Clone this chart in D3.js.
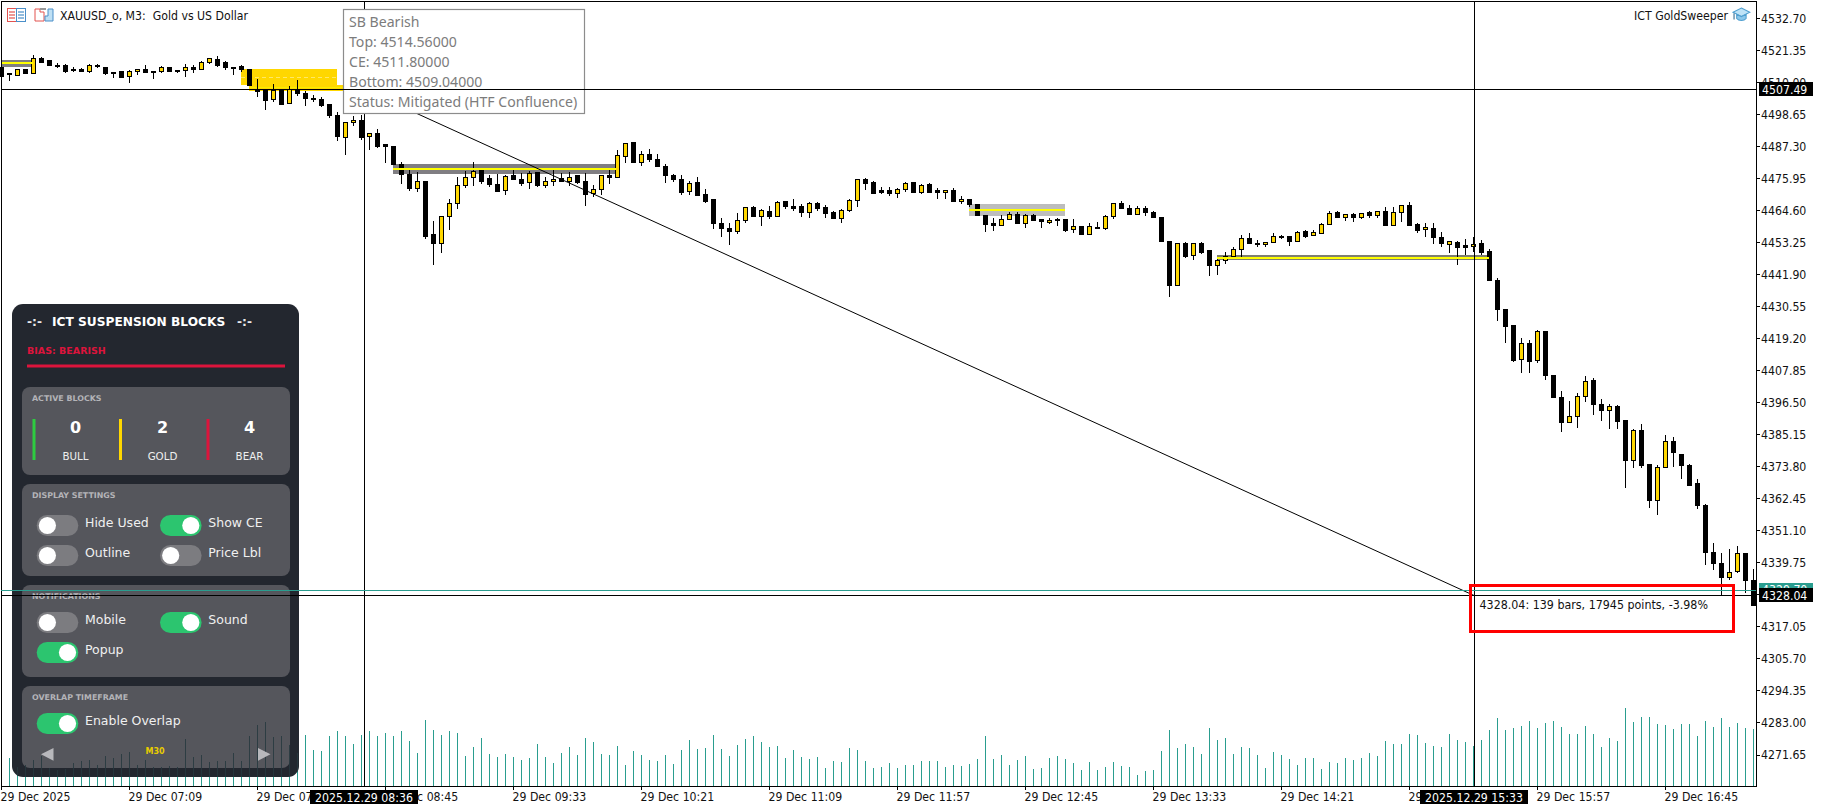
<!DOCTYPE html>
<html><head><meta charset="utf-8">
<style>
html,body{margin:0;padding:0;background:#fff;overflow:hidden}
svg{display:block}
.mt{font-family:"DejaVu Sans Condensed","DejaVu Sans",sans-serif;font-stretch:condensed;font-size:12.2px;fill:#111;white-space:pre}
.axis text{font-family:"DejaVu Sans Condensed","DejaVu Sans",sans-serif;font-stretch:condensed;font-size:12.2px;fill:#111}
.axis line{stroke:#000;shape-rendering:crispEdges}
.pn{font-family:"DejaVu Sans",sans-serif}
</style>
</head><body>
<script src="https://cdn.jsdelivr.net/npm/d3@7/dist/d3.min.js"></script>
<script>
const opens=[4515.3,4513.1,4512.5,4514.4,4513.2,4518.6,4517.6,4516.1,4516.1,4514.6,
4514.6,4513.8,4516.1,4515.3,4513.4,4513.7,4512.1,4514.0,4514.7,4513.8,
4513.8,4515.1,4514.3,4514.1,4515.4,4514.5,4517.1,4518.1,4516.9,4515.4,
4515.6,4514.7,4507.5,4507.0,4503.9,4507.0,4502.6,4507.4,4506.1,4504.2,
4504.0,4502.0,4498.1,4490.5,4495.8,4496.6,4490.7,4491.9,4487.8,4487.4,
4481.0,4477.4,4472.3,4475.0,4455.9,4452.9,4462.4,4467.1,4473.5,4476.3,
4478.6,4475.9,4473.9,4471.7,4476.8,4475.7,4474.5,4478.0,4473.5,4474.9,
4475.8,4474.8,4476.8,4475.0,4470.4,4471.9,4477.0,4476.3,4483.6,4488.5,
4481.5,4484.5,4482.7,4480.3,4477.0,4475.6,4471.2,4474.3,4470.3,4468.3,
4460.0,4458.3,4457.0,4461.1,4465.7,4462.4,4464.2,4462.4,4467.6,4466.0,
4465.8,4463.8,4467.0,4465.7,4463.7,4461.7,4464.5,4468.2,4475.7,4474.3,
4471.5,4471.5,4470.6,4472.1,4474.5,4470.9,4473.6,4471.5,4471.1,4471.8,
4467.7,4468.5,4466.7,4462.6,4459.8,4459.3,4461.4,4463.3,4460.0,4462.6,
4461.2,4460.2,4461.5,4461.2,4457.7,4459.0,4456.0,4458.5,4458.1,4462.4,
4466.9,4465.3,4463.3,4465.4,4463.9,4462.2,4453.7,4437.9,4453.0,4448.5,
4453.0,4450.2,4445.0,4446.9,4448.4,4450.7,4454.7,4452.9,4452.4,4453.1,
4455.5,4455.2,4453.5,4457.2,4455.7,4456.3,4459.6,4463.7,4462.1,4463.3,
4462.0,4463.7,4462.7,4464.2,4459.2,4463.8,4466.4,4459.7,4457.7,4458.2,
4454.8,4452.5,4453.2,4452.0,4451.7,4452.7,4450.1,4439.9,4429.5,4423.8,
4411.8,4417.4,4411.2,4421.5,4406.2,4398.4,4389.4,4391.4,4398.5,4404.1,
4395.9,4393.7,4395.1,4390.1,4375.9,4386.7,4374.6,4361.8,4373.5,4382.8,
4378.2,4374.3,4367.8,4360.0,4343.3,4339.4,4334.5,4336.4,4343.0,4333.3];
const highs=[4516.0,4513.4,4514.6,4514.6,4519.7,4519.1,4517.7,4516.7,4516.4,4515.6,
4515.1,4516.5,4516.6,4515.6,4513.5,4514.1,4514.4,4514.8,4516.1,4513.9,
4515.7,4515.3,4514.4,4516.4,4516.0,4517.7,4518.6,4519.3,4517.6,4515.6,
4516.3,4514.8,4511.3,4507.6,4509.4,4507.5,4508.7,4510.8,4507.0,4505.4,
4504.9,4502.3,4499.5,4495.8,4498.1,4498.4,4491.9,4493.3,4488.0,4487.4,
4481.6,4478.9,4478.3,4475.0,4460.8,4462.5,4468.6,4476.5,4478.7,4481.6,
4478.9,4477.1,4477.5,4477.1,4478.9,4477.7,4478.7,4478.3,4476.3,4478.9,
4478.0,4478.3,4476.8,4477.7,4473.6,4477.1,4478.9,4486.0,4488.6,4488.7,
4485.6,4486.4,4484.6,4481.0,4477.4,4477.1,4475.1,4476.3,4472.0,4468.7,
4461.8,4460.0,4463.5,4465.9,4466.1,4465.0,4466.1,4467.9,4467.9,4468.7,
4466.7,4467.4,4467.6,4466.4,4464.5,4465.0,4468.5,4475.7,4476.1,4474.9,
4472.8,4472.8,4472.4,4474.5,4474.7,4473.8,4474.2,4472.4,4471.8,4472.4,
4469.6,4468.7,4467.0,4462.8,4461.8,4463.1,4464.0,4464.0,4463.2,4463.3,
4461.4,4461.9,4461.9,4461.4,4461.4,4459.2,4460.0,4460.4,4463.0,4467.2,
4467.8,4466.4,4466.1,4466.1,4464.5,4462.4,4453.8,4453.1,4453.3,4453.1,
4453.4,4450.2,4447.6,4449.7,4451.5,4455.7,4456.4,4454.1,4453.4,4456.4,
4455.9,4455.5,4457.3,4457.6,4457.6,4460.0,4464.2,4464.4,4463.3,4463.8,
4463.7,4464.4,4464.5,4465.7,4465.9,4466.6,4467.4,4460.0,4460.0,4460.0,
4456.8,4453.8,4453.8,4454.3,4455.3,4454.1,4450.8,4440.5,4429.6,4423.9,
4419.2,4418.6,4422.0,4421.6,4406.2,4400.5,4397.0,4399.7,4405.7,4405.0,
4397.6,4395.8,4395.6,4390.2,4386.9,4388.8,4374.6,4374.3,4384.9,4384.3,
4378.3,4374.6,4369.5,4360.5,4346.5,4343.0,4344.4,4345.6,4343.0,4337.3];
const lows=[4511.8,4510.6,4512.4,4513.1,4513.1,4516.7,4515.9,4515.1,4513.4,4513.5,
4513.9,4513.2,4515.2,4512.7,4511.7,4511.4,4509.9,4512.5,4513.3,4511.1,
4513.4,4513.7,4513.2,4512.0,4513.2,4514.3,4516.5,4515.3,4514.5,4512.7,
4513.7,4508.7,4504.9,4500.2,4502.9,4501.8,4502.4,4505.1,4501.6,4503.0,
4501.1,4497.4,4489.3,4484.2,4494.6,4489.5,4486.0,4486.7,4481.5,4480.7,
4473.9,4471.6,4471.2,4454.6,4445.2,4449.6,4457.6,4465.2,4472.5,4473.2,
4473.9,4473.0,4471.1,4470.0,4475.2,4473.4,4472.2,4473.0,4472.5,4473.4,
4474.7,4473.2,4473.9,4466.3,4469.5,4470.0,4473.9,4476.1,4481.5,4481.5,
4480.4,4481.9,4480.0,4474.4,4474.5,4470.0,4470.2,4469.7,4467.3,4458.1,
4455.3,4452.3,4456.2,4460.2,4462.2,4459.0,4461.4,4462.2,4465.0,4464.4,
4462.4,4461.9,4464.5,4461.9,4461.5,4460.2,4464.1,4465.9,4471.8,4470.4,
4470.4,4469.8,4469.0,4471.0,4470.8,4470.5,4470.6,4468.7,4468.7,4467.6,
4467.0,4465.9,4462.6,4457.0,4457.4,4459.0,4461.2,4459.9,4458.3,4460.7,
4458.3,4459.8,4459.2,4456.9,4456.7,4455.9,4455.9,4458.1,4457.8,4461.7,
4465.0,4463.1,4463.0,4462.7,4461.8,4453.4,4434.0,4437.8,4447.8,4447.0,
4449.1,4441.3,4441.7,4445.6,4448.2,4448.2,4452.5,4451.6,4451.7,4452.9,
4454.6,4452.0,4453.3,4454.9,4455.5,4456.1,4459.5,4462.0,4460.8,4460.6,
4461.6,4461.9,4462.0,4459.0,4459.0,4460.6,4459.2,4456.7,4455.3,4452.8,
4451.7,4449.6,4445.3,4448.8,4449.8,4448.8,4439.5,4425.5,4417.7,4410.9,
4407.0,4407.0,4410.6,4404.6,4398.0,4386.1,4389.3,4387.4,4396.8,4392.1,
4390.0,4386.9,4387.2,4366.3,4373.3,4373.1,4358.9,4356.7,4373.1,4373.7,
4369.5,4367.0,4358.8,4338.8,4337.1,4328.2,4333.6,4336.1,4328.8,4324.4];
const closes=[4512.2,4512.8,4514.4,4513.2,4518.5,4517.0,4516.0,4515.9,4514.0,4514.3,
4514.0,4516.0,4515.8,4513.0,4513.2,4511.7,4513.9,4514.6,4513.4,4513.7,
4515.1,4513.9,4514.0,4515.3,4514.6,4517.1,4518.3,4516.0,4515.1,4515.2,
4514.4,4508.9,4506.6,4503.5,4507.2,4502.3,4507.5,4506.1,4504.2,4504.0,
4501.7,4498.2,4490.7,4495.8,4496.5,4490.5,4491.9,4487.1,4487.3,4480.9,
4477.2,4472.2,4474.9,4455.5,4452.8,4462.5,4467.1,4473.5,4476.3,4478.4,
4475.0,4473.7,4471.2,4476.7,4475.5,4474.0,4477.7,4473.4,4474.9,4475.6,
4474.8,4476.3,4474.4,4470.2,4472.0,4477.0,4476.2,4484.1,4488.4,4481.7,
4484.5,4482.5,4480.1,4476.9,4475.4,4471.1,4474.2,4470.0,4467.9,4459.9,
4458.1,4457.0,4460.9,4465.7,4462.4,4464.5,4462.4,4467.4,4465.8,4465.3,
4463.8,4466.9,4465.4,4463.4,4461.7,4464.7,4468.2,4475.7,4474.1,4470.5,
4471.0,4470.5,4472.1,4474.2,4470.9,4473.5,4470.9,4471.1,4471.7,4467.7,
4468.5,4466.7,4462.7,4459.5,4459.3,4461.4,4463.2,4460.1,4462.8,4460.9,
4460.5,4461.1,4461.4,4457.6,4458.9,4456.0,4458.9,4458.2,4462.5,4466.9,
4465.2,4463.3,4465.4,4463.7,4461.9,4453.5,4437.8,4452.9,4448.4,4452.9,
4449.6,4444.9,4446.9,4448.4,4450.8,4454.6,4452.7,4452.4,4453.1,4455.3,
4455.0,4453.5,4456.8,4455.5,4456.6,4459.7,4463.5,4462.2,4463.2,4461.9,
4463.5,4462.6,4464.2,4459.2,4463.9,4466.4,4459.4,4457.6,4458.6,4454.9,
4452.9,4453.7,4451.4,4451.4,4452.5,4449.5,4439.7,4429.3,4423.3,4411.5,
4417.4,4410.9,4421.7,4406.0,4398.2,4389.3,4391.4,4398.6,4404.0,4395.7,
4393.6,4395.1,4389.7,4375.8,4386.7,4374.3,4361.7,4373.5,4382.8,4378.7,
4374.2,4367.2,4359.9,4343.2,4339.3,4334.5,4336.2,4343.0,4333.4,4324.6];
const volumes=[260,277,193,210,260,300,177,160,170,233,253,260,210,303,283,320,343,210,260,193,190,200,195,
467,293,310,243,253,253,327,253,500,610,643,487,500,410,327,510,360,350,500,553,500,420,510,553,500,530,500,553,450,330,660,560,510,553,530,300,393,480,320,290,
320,287,260,277,420,287,233,333,393,313,483,440,320,313,400,210,353,313,260,250,313,220,360,460,370,380,510,370,303,410,470,500,440,393,400,280,360,290,273,290,180,250,240,380,360,250,180,190,233,180,210,210,250,250,250,190,210,200,220,270,500,270,313,210,260,300,170,180,280,300,270,230,160,240,160,190,240,200,190,110,150,160,350,560,380,420,390,
320,580,460,480,320,390,380,310,180,340,310,270,210,280,280,170,240,230,280,260,280,330,300,450,420,420,520,510,430,400,390,520,460,440,400,460,560,680,560,580,600,650,580,630,650,590,520,520,600,520,390,480,450,780,640,690,690,620,610,570,620,620,500,650,590,680,590,630,580,570];
const priceTicks=[4532.70,4521.35,4510.00,4498.65,4487.30,4475.95,4464.60,4453.25,4441.90,4430.55,4419.20,4407.85,4396.50,4385.15,4373.80,4362.45,4351.10,4339.75,4328.40,4317.05,4305.70,4294.35,4283.00,4271.65];
const timeTickBars=[0,16,32,48,64,80,96,112,128,144,160,176,192,208];
const timeLabels=["29 Dec 2025","29 Dec 07:09","29 Dec 07:57","29 Dec 08:45","29 Dec 09:33","29 Dec 10:21","29 Dec 11:09","29 Dec 11:57","29 Dec 12:45","29 Dec 13:33","29 Dec 14:21","29 Dec 15:09","29 Dec 15:57","29 Dec 16:45"];
const greyZones=[
 {from:0,to:4,top:4517.9,bottom:4515.5,ce:4516.7,fill:"#808080"},
 {from:49,to:76.9,top:4481.0,bottom:4477.5,ce:4479.3,fill:"#807e82"},
 {from:121,to:133,top:4466.9,bottom:4462.6,ce:4464.7,fill:"#bdbdbd"},
 {from:152,to:186,top:4448.8,bottom:4447.1,ce:4447.8,fill:"#7f7f70"}];
const goldZones=[
 {from:30,to:42,top:4514.56,bottom:4509.04,ce:4511.80},
 {from:31,to:44,top:4509.04,bottom:4506.8,ce:4508.0}];
const tooltipLines=["SB Bearish","Top: 4514.56000","CE: 4511.80000","Bottom: 4509.04000","Status: Mitigated (HTF Confluence)"];
const rulerStart={bar:45.375,price:4507.49,time:"2025.12.29 08:36"};
const rulerEnd={bar:184.125,price:4328.04,time:"2025.12.29 15:33"};
const bidPrice=4329.7;
const rulerText="4328.04: 139 bars, 17945 points, -3.98%";
const headerText="XAUUSD_o, M3:  Gold vs US Dollar";
const counts=[{n:"0",label:"BULL",c:"#2ecc40"},{n:"2",label:"GOLD",c:"#ffd700"},{n:"4",label:"BEAR",c:"#dc143c"}];

const W=1826,H=810,L=1,R=1756,T=1,B=786;
const svg=d3.select("body").append("svg").attr("width",W).attr("height",H);
const x=d3.scaleLinear().domain([0,219]).range([1,1753]);
const y=d3.scaleLinear().domain([4532.70,4271.65]).range([18.3,754.5]);
const v=d3.scaleLinear().domain([0,800]).range([B,B-80]);
const px=i=>x(i)+.5, py=p=>Math.floor(y(p))+.5;
const bars=opens.map((o,i)=>({i,o,h:highs[i],l:lows[i],c:closes[i],vol:volumes[i]}));
const TEAL="#2a9d8f";

// volume
const vg=svg.append("g").attr("shape-rendering","crispEdges");
vg.selectAll("line").data(bars).join("line")
 .attr("x1",d=>px(d.i)).attr("x2",d=>px(d.i)).attr("y1",B).attr("y2",d=>v(d.vol)).attr("stroke",TEAL);

// zones
const zr=svg.append("g").attr("shape-rendering","crispEdges");
zr.selectAll(".g").data(greyZones).join("rect").attr("class","g")
 .attr("x",d=>x(d.from)).attr("width",d=>x(d.to)-x(d.from))
 .attr("y",d=>y(d.top)).attr("height",d=>y(d.bottom)-y(d.top)).attr("fill",d=>d.fill);
zr.selectAll(".au").data(goldZones).join("rect").attr("class","au")
 .attr("x",d=>x(d.from)).attr("width",d=>x(d.to)-x(d.from))
 .attr("y",d=>y(d.top)).attr("height",d=>y(d.bottom)-y(d.top)).attr("fill","#ffd700");
zr.append("line").datum(goldZones[0]).attr("x1",d=>x(d.from)).attr("x2",d=>x(d.to))
 .attr("y1",d=>py(d.ce)).attr("y2",d=>py(d.ce)).attr("stroke","#ffe866").attr("stroke-dasharray","4 3");
zr.append("line").datum(goldZones[1]).attr("x1",d=>x(d.from)).attr("x2",d=>x(d.to))
 .attr("y1",d=>py(d.ce)).attr("y2",d=>py(d.ce)).attr("stroke","#f6ee00");

// candles
const cg=svg.append("g").attr("shape-rendering","crispEdges");
cg.selectAll("line").data(bars).join("line")
 .attr("x1",d=>px(d.i)).attr("x2",d=>px(d.i))
 .attr("y1",d=>y(d.h)).attr("y2",d=>y(d.l)).attr("stroke","#000");
cg.selectAll("rect").data(bars).join("rect")
 .attr("x",d=>x(d.i)-1.5).attr("width",4)
 .attr("y",d=>py(Math.max(d.o,d.c)))
 .attr("height",d=>Math.max(1,py(Math.min(d.o,d.c))-py(Math.max(d.o,d.c))))
 .attr("fill",d=>d.c>d.o?"#ffd700":"#000").attr("stroke","#000");

// CE lines above the candles
svg.append("g").attr("shape-rendering","crispEdges").selectAll("rect").data(greyZones).join("rect")
 .attr("x",d=>x(d.from)).attr("width",d=>x(d.to)-x(d.from))
 .attr("y",d=>y(d.ce)-1).attr("height",2).attr("fill","#ffff00");

// frame
svg.append("rect").attr("x",L+.5).attr("y",T+.5).attr("width",R-L-.5).attr("height",B-T-.5)
 .attr("fill","none").attr("stroke","#000").attr("shape-rendering","crispEdges");

// axes
const yAxis=d3.axisRight(y).tickValues(priceTicks).tickFormat(d3.format(".2f")).tickSize(4).tickPadding(1);
svg.append("g").attr("class","axis").attr("transform",`translate(${R},0)`).call(yAxis).call(g=>g.select(".domain").remove());
const xAxis=d3.axisBottom(x).tickValues(timeTickBars).tickFormat((d,i)=>timeLabels[i]).tickSize(4).tickPadding(1);
svg.append("g").attr("class","axis").attr("transform",`translate(0,${B})`).call(xAxis)
 .call(g=>g.select(".domain").remove())
 .call(g=>g.selectAll("text").attr("text-anchor","start").attr("x",-1).attr("y",5).attr("dy","0.85em"));

// ruler line
svg.append("line").attr("x1",x(rulerStart.bar)).attr("y1",y(rulerStart.price)).attr("x2",x(rulerEnd.bar)).attr("y2",y(rulerEnd.price))
 .attr("stroke","#000").attr("stroke-width",1);
// verticals
[rulerStart,rulerEnd].forEach(r=>{
 svg.append("line").attr("x1",Math.floor(x(r.bar))+.5).attr("x2",Math.floor(x(r.bar))+.5).attr("y1",T).attr("y2",B).attr("stroke","#000").attr("shape-rendering","crispEdges");
 const g=svg.append("g");
 g.append("rect").attr("x",x(r.bar)-54).attr("y",790).attr("width",108).attr("height",14).attr("fill","#000");
 g.append("text").attr("class","mt").attr("x",x(r.bar)).attr("y",801.5).attr("text-anchor","middle").style("fill","#fff").text(r.time);
});

// tooltip
const tip=svg.append("g");
tip.append("rect").attr("x",343.5).attr("y",9.5).attr("width",241).attr("height",104).attr("fill","#fff").attr("stroke","#8c8c8c").attr("stroke-width",1.2);
tip.selectAll("text").data(tooltipLines).join("text")
 .attr("x",349).attr("y",(d,i)=>26.6+i*20).attr("font-family","'Noto Sans',sans-serif").attr("font-size",14.1).attr("fill","#7c7c7c").text(d=>d);

// panel
const pn=svg.append("g").attr("class","pn");
const clipId="panelClip";
svg.append("defs").append("clipPath").attr("id",clipId).append("rect").attr("x",12).attr("y",304).attr("width",287).attr("height",473).attr("rx",11);
pn.append("rect").attr("x",12).attr("y",304).attr("width",287).attr("height",473).attr("rx",11).attr("fill","#23272f");
const sections=[[387,475],[484,576],[585,677],[686,768]];
pn.selectAll(".sec").data(sections).join("rect").attr("class","sec").attr("x",22).attr("width",268)
 .attr("y",d=>d[0]).attr("height",d=>d[1]-d[0]).attr("rx",8).attr("fill","#55565c");
// volume shows faintly through the panel
pn.append("g").attr("clip-path",`url(#${clipId})`).attr("shape-rendering","crispEdges")
 .selectAll("line").data(bars).join("line")
 .attr("x1",d=>px(d.i)).attr("x2",d=>px(d.i)).attr("y1",B).attr("y2",d=>v(d.vol)).attr("stroke","#27393f").attr("opacity",.85);

function pt(t,xx,yy,size,fill,opt={}){
 return pn.append("text").attr("x",xx).attr("y",yy).attr("font-size",size).attr("fill",fill)
  .attr("font-weight",opt.bold?"bold":"normal").attr("text-anchor",opt.anchor||"start").attr("dominant-baseline","central").text(t);
}
pt("-:-",27,322,12.2,"#e8e8e8",{bold:1});
pt("ICT SUSPENSION BLOCKS",52,322,12.2,"#fff",{bold:1});
pt("-:-",237,322,12.2,"#e8e8e8",{bold:1});
pt("BIAS: BEARISH",27,350,9.5,"#dc143c",{bold:1});
pn.append("rect").attr("x",27).attr("y",364.5).attr("width",258).attr("height",3).attr("fill","#dc143c");
pt("ACTIVE BLOCKS",32,398,7.9,"#b4b4b8",{bold:1});
pt("DISPLAY SETTINGS",32,495,7.9,"#b4b4b8",{bold:1});
pt("NOTIFICATIONS",32,596,7.9,"#b4b4b8",{bold:1});
pt("OVERLAP TIMEFRAME",32,697,7.9,"#b4b4b8",{bold:1});
counts.forEach((c,i)=>{
 const cx=[75.5,162.5,249.5][i], bx=[32.5,119,206.5][i];
 pn.append("rect").attr("x",bx).attr("y",419).attr("width",3).attr("height",41).attr("fill",c.c);
 pt(c.n,cx,427.5,16,"#fff",{bold:1,anchor:"middle"});
 pt(c.label,cx,455.5,10.3,"#eee",{anchor:"middle"});
});
const toggles=[["Hide Used",0,0,0],["Show CE",1,1,0],["Outline",0,0,1],["Price Lbl",0,1,1],
 ["Mobile",0,0,2],["Sound",1,1,2],["Popup",1,0,3],["Enable Overlap",1,0,4]];
const rowY=[515,545,612,642,713];
toggles.forEach(([t,on,col,row])=>{
 const tx=col?160:36.7, ty=rowY[row];
 pn.append("rect").attr("x",tx).attr("y",ty).attr("width",41.6).attr("height",21).attr("rx",10.5).attr("fill",on?"#2cc56f":"#7c7c80");
 pn.append("circle").attr("cx",tx+(on?30.8:10.7)).attr("cy",ty+10.5).attr("r",8.6).attr("fill","#fff");
 pt(t,col?208.3:85,ty+7.6,12.5,"#f0f0f0");
});
pt("M30",155,751,8,"#e8cc00",{bold:1,anchor:"middle"});
pn.append("path").attr("d","M53.5 748L41 754.3L53.5 760.7Z").attr("fill","#b8b8bc");
pn.append("path").attr("d","M258 748L270.5 754.3L258 760.7Z").attr("fill","#b8b8bc");

// price lines over everything
svg.append("line").attr("x1",L).attr("x2",R).attr("y1",py(bidPrice)).attr("y2",py(bidPrice)).attr("stroke",TEAL).attr("shape-rendering","crispEdges");
[rulerStart,rulerEnd].forEach(r=>{
 svg.append("line").attr("x1",L).attr("x2",R).attr("y1",py(r.price)).attr("y2",py(r.price)).attr("stroke","#000").attr("shape-rendering","crispEdges");
});
// price labels
svg.append("rect").attr("x",1759).attr("y",583).attr("width",54).attr("height",14).attr("fill",TEAL);
svg.append("text").attr("class","mt").attr("x",1762).attr("y",594).style("fill","#fff").text(bidPrice.toFixed(2));
[rulerStart,rulerEnd].forEach(r=>{
 svg.append("rect").attr("x",1759).attr("y",py(r.price)-7.5).attr("width",54).attr("height",14).attr("fill","#000");
 svg.append("text").attr("class","mt").attr("x",1762).attr("y",py(r.price)+4).style("fill","#fff").text(r.price.toFixed(2));
});
// ruler annotation box
svg.append("rect").attr("x",1470.5).attr("y",585.5).attr("width",263).attr("height",46).attr("fill","none").attr("stroke","#ff0000").attr("stroke-width",3);
svg.append("text").attr("class","mt").attr("x",1479.5).attr("y",609).style("font-size","12.35px").text(rulerText);

// header
const hd=svg.append("g");
hd.append("rect").attr("x",7.5).attr("y",8.5).attr("width",18).attr("height",13).attr("fill","#fff").attr("stroke","#e2524f");
hd.append("rect").attr("x",16.5).attr("y",8.5).attr("width",9).attr("height",13).attr("fill","#fff").attr("stroke","#4a8fc9");
[12,15,18].forEach(yy=>{
 hd.append("line").attr("x1",9).attr("x2",15).attr("y1",yy).attr("y2",yy).attr("stroke","#e2524f").attr("stroke-width",1.2);
 hd.append("line").attr("x1",18).attr("x2",24).attr("y1",yy).attr("y2",yy).attr("stroke","#4a8fc9").attr("stroke-width",1.2);
});
hd.append("path").attr("d","M35 9h5v3h4v9h-9z").attr("fill","#fff").attr("stroke","#e2524f");
hd.append("path").attr("d","M45 16h3v-7h5v12h-8z").attr("fill","#bfe0f4").attr("stroke","#4a8fc9");
hd.append("rect").attr("x",40).attr("y",8).attr("width",6).attr("height",2).attr("fill","#999");
svg.append("text").attr("class","mt").attr("x",60).attr("y",19.5).text(headerText);
svg.append("text").attr("class","mt").attr("x",1728).attr("y",19.5).attr("text-anchor","end").text("ICT GoldSweeper");
const cap=svg.append("g").attr("transform","translate(1733,8) scale(1.05)");
cap.append("path").attr("d","M8 0L16 4L8 8L0 4Z").attr("fill","#bfe3f7").attr("stroke","#4f9fd0");
cap.append("path").attr("d","M3.5 6v4c2 2.5 7 2.5 9 0v-4L8 8.3Z").attr("fill","#8cc7ea").attr("stroke","#4f9fd0");
cap.append("path").attr("d","M1 5v6").attr("stroke","#4f7f9f").attr("stroke-width",1.2);
</script>
</body></html>
